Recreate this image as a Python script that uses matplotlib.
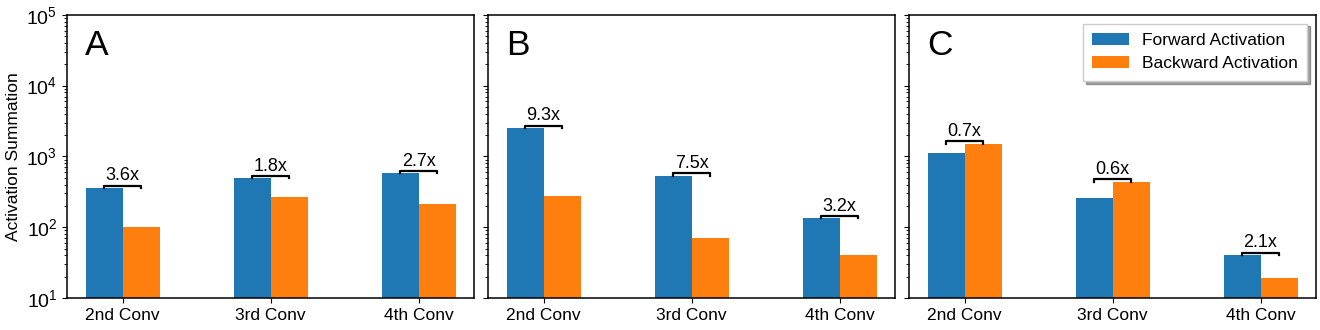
import numpy as np
import matplotlib
matplotlib.use('Agg')
import matplotlib.pyplot as plt

plt.rcParams['font.family'] = ['Liberation Sans', 'DejaVu Sans']
plt.rcParams['mathtext.default'] = 'regular'

categories = ['2nd Conv', '3rd Conv', '4th Conv']
panel_names = ['A', 'B', 'C']

forward_a = [359, 492, 578]
backward_a = [100, 268, 211]
ratio_a = ['3.6x', '1.8x', '2.7x']

forward_b = [2552, 537, 134]
backward_b = [274, 71.5, 41]
ratio_b = ['9.3x', '7.5x', '3.2x']

forward_c = [1135, 257, 41]
backward_c = [1521, 442, 19]
ratio_c = ['0.7x', '0.6x', '2.1x']

forward = [forward_a, forward_b, forward_c]
backward = [backward_a, backward_b, backward_c]
ratios = [ratio_a, ratio_b, ratio_c]

blue = '#1f77b4'
orange = '#ff7f0e'
width = 0.25

fig, axes = plt.subplots(1, 3, figsize=(13.2, 3.3), dpi=100, sharey=True)
fig.subplots_adjust(left=0.0508, right=0.997, bottom=0.097, top=0.955, wspace=0.0344)

x = np.arange(len(categories))
for i, ax in enumerate(axes):
    ax.bar(x - width / 2, forward[i], width, color=blue, label='Forward Activation')
    ax.bar(x + width / 2, backward[i], width, color=orange, label='Backward Activation')
    ax.set_yscale('log')
    ax.set_ylim(10, 1e5)
    ax.set_xticks(x)
    ax.set_xticklabels(categories, fontsize=12.5)
    ax.tick_params(axis='y', labelsize=14)
    for s in ax.spines.values():
        s.set_linewidth(1.1)
    # bracket + ratio label over each pair
    for j in range(len(categories)):
        top = max(forward[i][j], backward[i][j]) * 1.07
        x0, x1 = x[j] - width / 2, x[j] + width / 2
        ax.plot([x0, x0, x1, x1], [top * 0.93, top, top, top * 0.93], color='k', lw=1.6)
        ax.annotate(ratios[i][j], (x[j], top), xytext=(0, 1), textcoords='offset points',
                    ha='center', va='bottom', fontsize=13)
    ax.text(0.045, 0.95, panel_names[i], transform=ax.transAxes, fontsize=25.5,
            ha='left', va='top')

axes[0].set_ylabel('Activation Summation', fontsize=12.5)
axes[2].legend(loc='upper right', shadow=True, fancybox=False, fontsize=12.5,
               handlelength=2.1, handletextpad=0.75, borderpad=0.55, labelspacing=0.45)

fig.savefig('out.png', dpi=100)
